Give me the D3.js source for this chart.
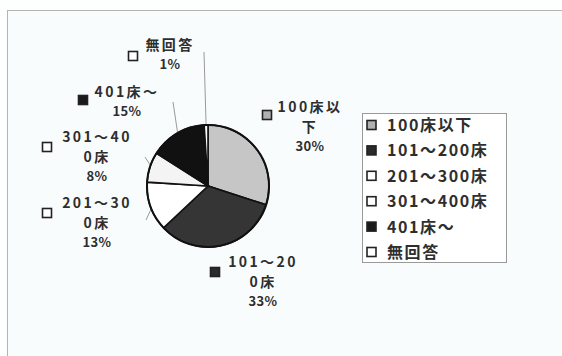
<!DOCTYPE html>
<meta charset="utf-8">
<style>
  body { margin: 0; background: #fdfefe; }
  text { font-family: "Noto Sans CJK JP", sans-serif; fill: #2e2e2e; font-weight: bold; }
</style>
<svg width="562" height="356"></svg>
<script src="https://cdn.jsdelivr.net/npm/d3@7"></script>
<script>
// data
var categories = ["100床以下", "101～200床", "201～300床", "301～400床", "401床～", "無回答"];
var shares = [30, 33, 13, 8, 15, 1];
// labels next to the pie (wrapped as in the original)
var labelLines = [["100床以", "下"], ["101～20", "0床"], ["201～30", "0床"], ["301～40", "0床"], ["401床～"], ["無回答"]];

var fills = ["#c6c6c6", "#353535", "#ffffff", "#f4f4f4", "#111111", "#ffffff"];
var markerFills = ["#b0b0b0", "#2a2a2a", "#ffffff", "#ffffff", "#1a1a1a", "#ffffff"];

// layout of the outer labels: centre x, first line y, marker x,y, leader start
var labelLayout = [
  {x: 310, y: 112, mx: 267, my: 115},
  {x: 263, y: 267, mx: 215, my: 272},
  {x: 97, y: 208, mx: 47, my: 213, lead: [146, 220]},
  {x: 97, y: 142, mx: 47, my: 147, lead: [145, 157]},
  {x: 127, y: 97, mx: 83, my: 100, lead: [173, 102]},
  {x: 170, y: 50, mx: 133, my: 56, lead: [204, 52]}
];

var svg = d3.select("svg");

// chart frame
svg.append("rect")
  .attr("x", 7.5).attr("y", 10.5)
  .attr("width", 560).attr("height", 360)
  .attr("fill", "#f8fcfc")
  .attr("stroke", "#b4b4b4");

var cx = 208, cy = 186, r = 61;

var pie = d3.pie().sort(null).value(function(d) { return d; });
var arcs = pie(shares);
var arc = d3.arc().innerRadius(0).outerRadius(r);

var g = svg.append("g").attr("transform", "translate(" + cx + "," + cy + ")");

// leader lines (drawn first, under the pie)
arcs.forEach(function(a, i) {
  var L = labelLayout[i];
  if (!L.lead) return;
  var mid = (a.startAngle + a.endAngle) / 2;
  var ex = Math.sin(mid) * (r - 2), ey = -Math.cos(mid) * (r - 2);
  g.append("line")
    .attr("x1", L.lead[0] - cx).attr("y1", L.lead[1] - cy)
    .attr("x2", ex).attr("y2", ey)
    .attr("stroke", "#9a9a9a").attr("stroke-width", 1);
});

g.selectAll(".slice")
  .data(arcs)
  .enter().append("path")
  .attr("class", "slice")
  .attr("d", arc)
  .attr("fill", function(d, i) { return fills[i]; })
  .attr("stroke", "#111")
  .attr("stroke-width", 1.6);

g.append("circle").attr("r", r)
  .attr("fill", "none").attr("stroke", "#111").attr("stroke-width", 2);

// outer labels, one text per line
categories.forEach(function(c, i) {
  var L = labelLayout[i];
  var lines = labelLines[i].concat([shares[i] + "%"]);
  lines.forEach(function(s, k) {
    var last = k == lines.length - 1;
    svg.append("text")
      .attr("text-anchor", "middle")
      .attr("x", L.x)
      .attr("y", L.y + k * 20 - (last ? 1 : 0))
      .style("font-size", last ? "13px" : "14px")
      .style("letter-spacing", last ? "0.3px" : "2.4px")
      .text(s);
  });
  svg.append("rect")
    .attr("x", L.mx - 4.5).attr("y", L.my - 4.5)
    .attr("width", 9).attr("height", 9)
    .attr("fill", markerFills[i])
    .attr("stroke", "#222").attr("stroke-width", 1.6);
});

// legend
var legend = svg.append("g").attr("transform", "translate(362,113)");
legend.append("rect")
  .attr("x", 0.5).attr("y", 0.5)
  .attr("width", 144).attr("height", 149)
  .attr("fill", "#ffffff").attr("stroke", "#9a9a9a");

var y = d3.scalePoint().domain(categories).range([12, 139]);

var item = legend.selectAll(".item")
  .data(categories)
  .enter().append("g")
  .attr("class", "item")
  .attr("transform", function(d) { return "translate(0," + y(d) + ")"; });

item.append("rect")
  .attr("x", 5).attr("y", -4.5)
  .attr("width", 9).attr("height", 9)
  .attr("fill", function(d, i) { return markerFills[i]; })
  .attr("stroke", "#222").attr("stroke-width", 1.6);

item.append("text")
  .attr("x", 25).attr("y", 6)
  .style("font-size", "16px")
  .style("letter-spacing", "1.6px")
  .text(function(d) { return d; });
</script>
